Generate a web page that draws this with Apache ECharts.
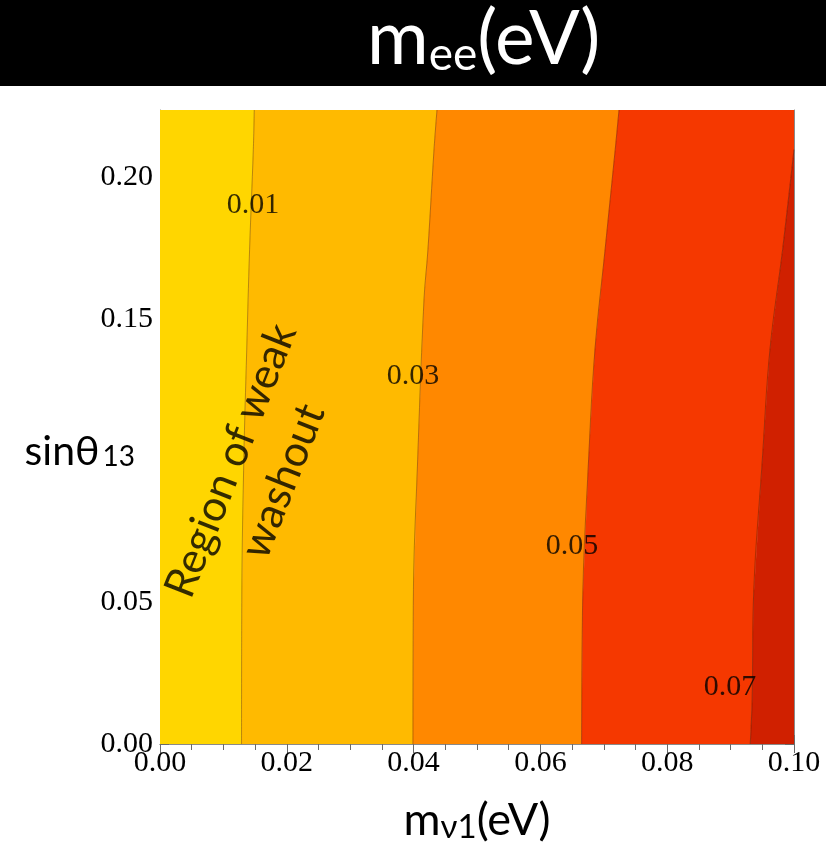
<!DOCTYPE html>
<html>
<head>
<meta charset="utf-8">
<script src="https://cdn.jsdelivr.net/npm/echarts@6/dist/echarts.min.js"></script>
<style>html,body{margin:0;padding:0;background:#fff;}#c{width:826px;height:847px;}</style>
</head>
<body>
<div id="c"></div>
<script>
// ---- data ----
const xMin = 0, xMax = 0.10;
const yMin = 0, yMax = 0.2236;
const xTickLabels = ['0.00', '0.02', '0.04', '0.06', '0.08', '0.10'];
const yTickLabels = ['0.00', '0.05', '', '0.15', '0.20'];

// contour lines [m_nu1, sin theta13]
const contour001 = [[0.01286, 0], [0.01290, 0.05], [0.01322, 0.1002], [0.01368, 0.139], [0.01413, 0.1743], [0.01472, 0.2096], [0.01487, 0.2236]];
const contour003 = [[0.03990, 0], [0.03996, 0.0508], [0.04064, 0.1002], [0.04164, 0.1566], [0.04226, 0.1743], [0.04322, 0.2096], [0.04369, 0.2236]];
const contour005 = [[0.06650, 0], [0.06667, 0.0508], [0.06760, 0.1002], [0.06860, 0.139], [0.07020, 0.1743], [0.07180, 0.2096], [0.07240, 0.2236]];
const contour007 = [[0.09310, 0], [0.09340, 0.0155], [0.09360, 0.0508], [0.09500, 0.1002], [0.09620, 0.139], [0.09820, 0.1743], [0.10000, 0.2096]];

const contourLevels = ['0.01', '0.03', '0.05', '0.07'];
const contourLabelX = [0.01467, 0.0399, 0.0650, 0.0899];
const contourLabelY = [0.1902, 0.1299, 0.0699, 0.0201];

const bandColors = ['#FFD600', '#FFBA00', '#FF8800', '#F53800', '#D02000'];

const regionText = 'Region of weak\nwashout';
const regionPos = [0.0153, 0.0963];

// ---- build band polygons from the contours ----
const rev = a => a.slice().reverse();
const bandPolygons = [
  [[xMin, yMin], [xMin, yMax]].concat(rev(contour001)),
  contour001.concat(rev(contour003)),
  contour003.concat(rev(contour005)),
  contour005.concat([[xMax, yMax]], rev(contour007)),
  contour007.concat([[xMax, yMin]])
];

const chart = echarts.init(document.getElementById('c'), null, {renderer: 'canvas'});
const tickColor = '#6a6a6a';
const frameColor = '#8a8a8a';
const serif = 'Liberation Serif';
const sans = 'Lato';

function yMajorAxis(pos, showLabel) {
  return {
    type: 'value', position: pos, min: yMin, max: yMax, interval: 0.05,
    axisLine: {show: true, lineStyle: {color: frameColor, width: 1}},
    axisTick: {show: true, inside: true, length: 9, lineStyle: {color: tickColor}},
    axisLabel: {
      show: showLabel, margin: 7, fontFamily: serif, fontSize: 30, color: '#000',
      formatter: v => {
        const k = Math.round(v / 0.05);
        if (Math.abs(v - k * 0.05) > 1e-9) return '';
        return yTickLabels[k] || '';
      }
    },
    splitLine: {show: false}
  };
}
function yMinorAxis(pos) {
  return {
    type: 'value', position: pos, min: yMin, max: yMax, interval: 0.01,
    axisLine: {show: false},
    axisTick: {show: true, inside: true, length: 6, lineStyle: {color: tickColor}},
    axisLabel: {show: false}, splitLine: {show: false}
  };
}
function xAxisDef(pos, showLabel) {
  return {
    type: 'value', position: pos, min: xMin, max: xMax, interval: 0.02,
    axisLine: {show: true, lineStyle: {color: frameColor, width: 1}},
    axisTick: {show: true, inside: true, length: 9, lineStyle: {color: tickColor}},
    minorTick: {show: true, splitNumber: 4, length: 6, lineStyle: {color: tickColor}},
    axisLabel: {
      show: showLabel, margin: 4, fontFamily: serif, fontSize: 30, color: '#000',
      formatter: v => xTickLabels[Math.round(v / 0.02)] || ''
    },
    splitLine: {show: false}
  };
}

const xa = xAxisDef('bottom', true);
xa.name = '{m|m}{s|ν1}{m|(eV)}';
xa.nameLocation = 'middle';
xa.nameGap = 53;
xa.nameMoveOverlap = false;
xa.nameTextStyle = {
  rich: {
    m: {fontFamily: sans, fontSize: 45, color: '#000'},
    s: {fontFamily: sans, fontSize: 33, color: '#000', padding: [14, 0, 0, 0]}
  }
};
const ya = yMajorAxis('left', true);
ya.name = '{m|sinθ}{s|13}';
ya.nameLocation = 'middle';
ya.nameRotate = 0;
ya.nameGap = 25;
ya.nameMoveOverlap = false;
ya.nameTextStyle = {
  padding: [50, 0, 0, 0],
  rich: {
    m: {fontFamily: sans, fontSize: 41, color: '#000'},
    s: {fontFamily: sans, fontSize: 28, color: '#000', padding: [10, 0, 0, 3]}
  }
};

const lineSeries = [contour001, contour003, contour005, contour007].map(c => ({
  type: 'line', data: c, xAxisIndex: 0, yAxisIndex: 0, symbol: 'none', smooth: 0.4,
  lineStyle: {color: 'rgba(70,35,0,0.38)', width: 1}, silent: true, z: 3, clip: true
}));

const option = {
  animation: false,
  backgroundColor: '#fff',
  graphic: [{type: 'rect', left: 0, top: 0, shape: {width: 826, height: 86}, style: {fill: '#000'}, z: 0}],
  title: {
    text: '{m|m}{s|ee}{m|(eV)}',
    left: 362, top: -3,
    textStyle: {
      rich: {
        m: {fontFamily: sans, fontSize: 75, fontWeight: 'normal', color: '#fff'},
        s: {fontFamily: sans, fontSize: 46, fontWeight: 'normal', color: '#fff', padding: [30, 0, 0, 0]}
      }
    }
  },
  grid: {left: 160, right: 32, top: 110, bottom: 103, containLabel: false, outerBoundsMode: 'none'},
  xAxis: [xa, xAxisDef('top', false)],
  yAxis: [ya, yMinorAxis('left'), yMajorAxis('right', false), yMinorAxis('right')],
  series: [
    {
      type: 'custom', xAxisIndex: 0, yAxisIndex: 0, clip: true, silent: true, z: 1,
      data: bandColors.map((c, i) => [i, 0]),
      renderItem: (params, api) => {
        const poly = bandPolygons[params.dataIndex];
        return {
          type: 'polygon',
          shape: {points: poly.map(p => api.coord(p))},
          style: {fill: bandColors[params.dataIndex], stroke: bandColors[params.dataIndex], lineWidth: 0.5}
        };
      }
    },
    ...lineSeries,
    {
      type: 'scatter', xAxisIndex: 0, yAxisIndex: 0, symbolSize: 1, silent: true, z: 5,
      itemStyle: {color: 'transparent'},
      data: contourLevels.map((t, i) => [contourLabelX[i], contourLabelY[i], t]),
      label: {show: true, position: 'inside', formatter: p => p.value[2], fontFamily: serif, fontSize: 30, color: '#000', textBorderWidth: 0}
    },
    {
      type: 'scatter', xAxisIndex: 0, yAxisIndex: 0, symbolSize: 1, silent: true, z: 5,
      itemStyle: {color: 'transparent'},
      data: [[regionPos[0], regionPos[1]]],
      label: {show: true, position: 'inside', rotate: 68.5, formatter: regionText, fontFamily: sans, fontSize: 43, lineHeight: 56, align: 'center', color: '#000', textBorderWidth: 0}
    }
  ]
};
chart.setOption(option);
</script>
</body>
</html>
